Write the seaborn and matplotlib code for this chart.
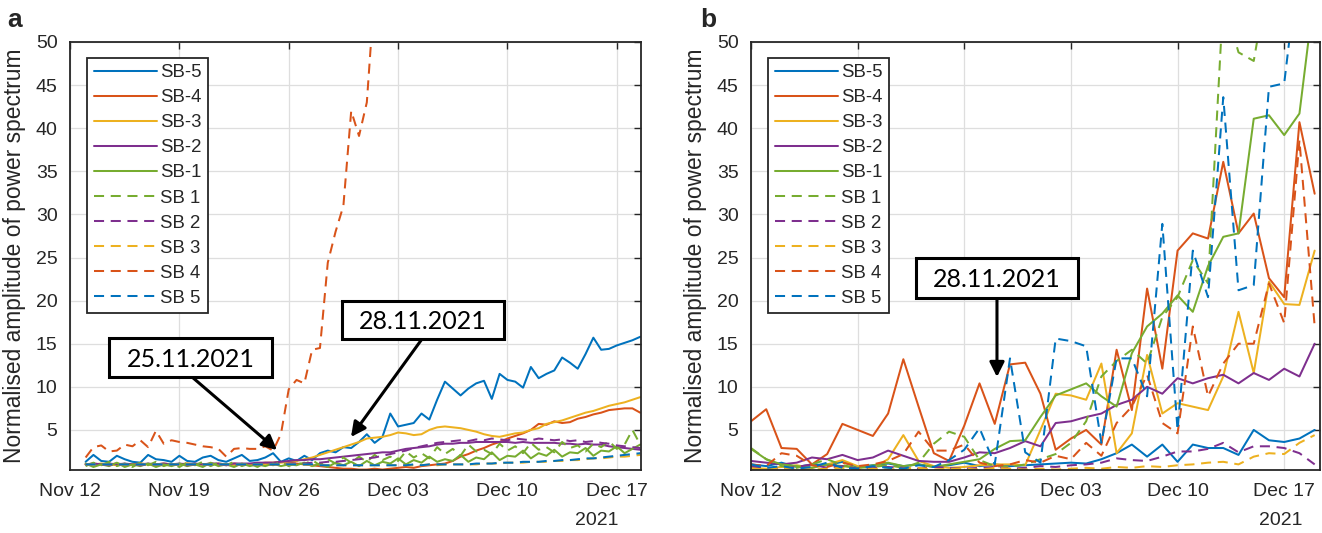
import numpy as np
import pandas as pd
import matplotlib
matplotlib.use("Agg")
import matplotlib.pyplot as plt
import matplotlib.dates as mdates
from matplotlib.patches import Rectangle
import seaborn as sns

# ---------------- data ----------------
# Panel a: 12-hourly samples from 13 Nov 2021 (72 samples)
times_a = pd.date_range("2021-11-13 00:00", periods=72, freq="12h")
# Panel b: daily samples from 12 Nov 2021 (38 samples)
times_b = pd.date_range("2021-11-12", periods=38, freq="D")

labels = ["SB-5", "SB-4", "SB-3", "SB-2", "SB-1", "SB 1", "SB 2", "SB 3", "SB 4", "SB 5"]

# ---- panel a ----
a_sbm5 = [1.3, 2.1, 1.4, 1.3, 2.0, 1.6, 1.3, 1.2, 2.1, 1.6, 1.5, 1.3,
          2.0, 1.4, 1.3, 1.8, 2.0, 1.5, 1.3, 1.7, 2.1, 1.4, 1.5, 1.8,
          2.3, 1.3, 1.7, 1.4, 2.0, 1.5, 2.3, 2.6, 2.4, 3.0, 2.9, 3.6,
          4.5, 3.5, 4.2, 6.9, 5.4, 5.6, 5.8, 6.9, 6.2, 8.5, 10.6, 9.8,
          9.0, 9.8, 10.4, 10.7, 8.6, 11.5, 10.8, 10.6, 9.9, 12.3, 11.0, 11.5,
          11.9, 13.4, 12.8, 12.1, 13.8, 15.7, 14.3, 14.4, 14.8, 15.1, 15.4, 15.8]
a_sbm4 = [1.0, 1.1, 1.0, 1.0, 1.1, 1.0, 1.0, 1.1, 1.0, 1.0, 1.1, 1.0,
          1.0, 1.1, 1.0, 1.0, 1.1, 1.0, 1.0, 1.1, 1.0, 1.0, 1.1, 1.2,
          1.2, 1.3, 1.2, 1.1, 1.0, 0.9, 0.8, 0.7, 0.6, 0.5, 0.5, 0.4,
          0.4, 0.5, 0.4, 0.5, 0.6, 0.7, 0.6, 0.8, 0.9, 1.0, 1.1, 1.4,
          1.9, 2.2, 2.6, 2.9, 3.3, 3.6, 4.0, 4.3, 4.6, 5.0, 5.7, 5.6,
          6.0, 5.8, 5.9, 6.3, 6.5, 6.8, 7.0, 7.3, 7.4, 7.5, 7.5, 7.0]
a_sbm3 = [1.0, 1.0, 1.1, 1.0, 0.9, 1.0, 1.0, 1.1, 1.0, 1.0, 0.9, 1.0,
          1.0, 1.1, 1.0, 1.0, 1.0, 1.1, 1.0, 0.9, 1.0, 1.0, 1.1, 1.0,
          1.1, 1.2, 1.3, 1.4, 1.6, 1.8, 2.1, 2.4, 2.7, 3.0, 3.3, 3.6,
          4.0, 4.1, 4.2, 4.4, 4.7, 4.6, 4.4, 4.5, 5.0, 5.3, 5.4, 5.3,
          5.2, 5.0, 4.8, 4.5, 4.3, 4.2, 4.4, 4.6, 4.7, 5.0, 5.2, 5.7,
          5.9, 6.1, 6.4, 6.7, 7.0, 7.2, 7.5, 7.8, 8.0, 8.2, 8.5, 8.8]
a_sbm2 = [1.0, 1.1, 1.0, 1.1, 1.0, 1.1, 1.0, 1.0, 1.1, 1.0, 1.1, 1.0,
          1.1, 1.0, 1.1, 1.0, 1.1, 1.1, 1.0, 1.1, 1.1, 1.1, 1.2, 1.2,
          1.2, 1.3, 1.4, 1.5, 1.5, 1.6, 1.6, 1.7, 1.8, 1.9, 2.0, 2.1,
          2.2, 2.3, 2.4, 2.4, 2.6, 2.8, 2.9, 3.0, 3.1, 3.3, 3.4, 3.4,
          3.5, 3.5, 3.6, 3.6, 3.6, 3.6, 3.6, 3.5, 3.6, 3.5, 3.5, 3.5,
          3.5, 3.4, 3.4, 3.3, 3.4, 3.3, 3.3, 3.1, 3.0, 2.9, 2.8, 2.7]
a_sbm1 = [1.1, 0.7, 1.0, 0.8, 1.2, 0.7, 1.0, 0.8, 1.1, 0.7, 1.0, 0.8,
          1.1, 0.8, 1.0, 0.7, 1.2, 0.8, 1.0, 0.7, 1.1, 0.8, 1.0, 0.8,
          1.1, 0.8, 1.0, 0.9, 1.2, 0.8, 1.1, 0.7, 1.2, 0.9, 1.3, 0.8,
          1.4, 0.9, 1.3, 1.1, 1.7, 1.0, 1.5, 1.2, 1.9, 1.3, 1.6, 1.4,
          2.1, 1.3, 1.8, 1.6, 2.4, 1.5, 2.0, 1.9, 2.6, 1.7, 2.3, 2.0,
          2.7, 1.9, 2.4, 2.3, 2.9, 2.0, 2.6, 2.5, 3.1, 2.3, 2.8, 3.3]
a_sbp1 = [0.8, 1.2, 0.9, 1.3, 0.8, 1.1, 0.7, 1.2, 0.9, 1.3, 0.8, 1.1,
          0.7, 1.2, 0.9, 1.3, 0.8, 1.2, 0.9, 1.3, 0.8, 1.1, 0.7, 1.2,
          0.9, 1.3, 0.8, 1.2, 1.0, 1.5, 0.9, 1.6, 1.1, 1.8, 1.2, 1.9,
          1.3, 2.1, 1.5, 1.9, 1.4, 2.5, 1.8, 2.3, 1.7, 3.0, 2.2, 2.8,
          2.0, 3.3, 2.5, 2.7, 2.2, 3.4, 2.6, 3.1, 2.3, 3.5, 2.7, 3.0,
          2.4, 3.6, 2.9, 3.2, 2.5, 3.4, 3.0, 3.7, 2.8, 3.3, 5.0, 3.3]
a_sbp2 = [1.0, 1.0, 1.0, 0.9, 1.0, 1.0, 1.0, 0.9, 1.0, 1.0, 1.0, 1.0,
          1.0, 0.9, 1.0, 1.0, 1.0, 1.0, 0.9, 1.0, 1.0, 1.0, 1.0, 1.0,
          1.0, 1.0, 1.1, 1.1, 1.1, 1.2, 1.2, 1.3, 1.3, 1.4, 1.5, 1.6,
          1.7, 1.8, 2.0, 2.2, 2.4, 2.6, 2.9, 3.1, 3.3, 3.5, 3.6, 3.7,
          3.8, 3.7, 3.9, 3.8, 4.0, 3.9, 3.8, 4.0, 3.9, 3.8, 4.0, 3.9,
          3.8, 3.9, 3.7, 3.8, 3.6, 3.7, 3.5, 3.4, 3.2, 3.1, 3.0, 2.9]
a_sbp3 = [1.0, 1.0, 1.0, 1.0, 1.0, 1.0, 1.0, 1.0, 1.0, 1.0, 1.0, 1.0,
          1.0, 1.0, 1.0, 1.0, 1.0, 1.0, 1.0, 1.0, 1.0, 1.0, 1.0, 1.0,
          1.0, 1.0, 1.0, 1.0, 1.0, 0.9, 0.9, 0.9, 0.9, 0.9, 0.9, 0.9,
          0.9, 0.9, 0.9, 0.9, 0.9, 0.9, 0.9, 0.9, 1.0, 0.9, 1.0, 1.0,
          1.0, 1.0, 1.0, 1.1, 1.1, 1.1, 1.2, 1.2, 1.2, 1.3, 1.3, 1.3,
          1.4, 1.4, 1.5, 1.5, 1.6, 1.7, 1.7, 1.8, 1.9, 1.9, 2.0, 2.1]
a_sbp4 = [1.8, 3.0, 3.2, 2.5, 2.6, 3.3, 3.1, 3.8, 3.0, 4.9, 3.4, 3.8,
          3.6, 3.5, 3.3, 3.1, 3.0, 2.8, 1.9, 2.8, 2.9, 2.8, 2.8, 3.1,
          2.6, 4.5, 9.7, 10.8, 10.4, 14.3, 14.5, 24.4, 28.0, 31.0, 42.0, 39.1,
          43.0, 56.0, 62.0, np.nan, np.nan, np.nan, np.nan, np.nan, np.nan, np.nan, np.nan, np.nan,
          np.nan, np.nan, np.nan, np.nan, np.nan, np.nan, np.nan, np.nan, np.nan, np.nan, np.nan, np.nan,
          np.nan, np.nan, np.nan, np.nan, np.nan, np.nan, np.nan, np.nan, np.nan, np.nan, np.nan, np.nan]
a_sbp5 = [1.0, 1.0, 1.0, 1.0, 1.0, 1.0, 1.0, 1.0, 1.0, 1.0, 1.0, 1.0,
          1.0, 1.0, 1.0, 1.0, 1.0, 1.0, 1.0, 1.0, 1.0, 1.0, 1.0, 1.0,
          1.0, 1.0, 1.0, 1.0, 1.0, 1.0, 0.9, 0.9, 0.9, 0.9, 0.9, 0.9,
          0.9, 0.9, 0.9, 0.9, 0.9, 0.9, 1.0, 0.9, 1.0, 1.0, 1.0, 1.0,
          1.0, 1.0, 1.1, 1.1, 1.1, 1.2, 1.2, 1.2, 1.3, 1.3, 1.3, 1.4,
          1.4, 1.5, 1.5, 1.6, 1.7, 1.7, 1.8, 1.9, 2.0, 2.1, 2.2, 2.3]

# ---- panel b ----
b_sbm5 = [1.0, 0.8, 1.2, 0.7, 1.0, 0.9, 1.3, 0.7, 0.9, 1.1,
          0.8, 1.0, 0.7, 0.9, 1.2, 0.8, 1.0, 0.8, 0.9, 1.0,
          1.1, 1.2, 1.1, 1.6, 2.3, 3.3, 1.9, 3.3, 1.3, 3.3,
          2.9, 2.9, 2.1, 5.0, 3.8, 3.6, 4.0, 5.0]
b_sbm4 = [6.0, 7.4, 2.9, 2.8, 1.0, 2.2, 5.7, 5.0, 4.3, 6.9,
          13.2, 7.7, 2.3, 1.4, 5.5, 10.4, 5.7, 12.6, 12.8, 9.2,
          2.7, 4.0, 5.0, 3.3, 14.3, 7.3, 21.4, 12.1, 25.8, 27.8,
          27.2, 36.1, 27.8, 30.1, 22.6, 20.4, 40.7, 32.4]
b_sbm3 = [0.6, 0.5, 0.7, 0.9, 0.6, 1.0, 1.5, 0.8, 0.6, 1.6,
          4.4, 1.4, 0.8, 0.6, 0.7, 0.9, 1.0, 1.0, 0.9, 5.0,
          9.2, 9.0, 8.5, 12.7, 2.3, 4.6, 13.7, 6.9, 8.1, 7.7,
          7.3, 11.2, 18.7, 11.6, 22.2, 19.6, 19.5, 25.8]
b_sbm2 = [1.4, 1.2, 1.0, 1.2, 1.8, 1.6, 2.1, 1.5, 1.8, 2.6,
          2.0, 1.4, 1.3, 1.3, 1.8, 2.4, 2.3, 2.9, 3.7, 3.1,
          5.8, 6.0, 6.5, 6.9, 7.9, 8.5, 10.0, 9.2, 11.0, 10.4,
          11.0, 11.4, 10.4, 11.6, 10.8, 12.1, 11.2, 15.0]
b_sbm1 = [2.8, 1.6, 1.0, 0.8, 0.6, 1.0, 0.8, 0.6, 0.9, 1.2,
          0.8, 1.0, 0.7, 1.0, 1.3, 1.6, 2.8, 3.7, 3.8, 6.5,
          9.0, 9.7, 10.4, 8.9, 7.7, 13.9, 17.0, 18.5, 20.6, 18.7,
          24.0, 27.4, 27.8, 41.1, 41.5, 39.2, 41.7, 56.0]
b_sbp1 = [2.9, 1.6, 0.8, 0.6, 1.0, 1.6, 0.9, 0.6, 0.7, 0.9,
          0.6, 1.2, 3.4, 4.8, 4.2, 1.5, 0.8, 0.7, 1.0, 1.6,
          2.2, 3.5, 6.0, 11.2, 13.0, 14.3, 12.7, 18.1, 20.4, 24.7,
          22.0, 55.0, 48.8, 47.8, 58.0, 60.0, 60.0, 60.0]
b_sbp2 = [0.8, 0.6, 0.5, 0.7, 1.0, 0.6, 0.8, 0.5, 0.6, 0.7,
          0.6, 0.5, 0.7, 0.6, 0.5, 0.6, 0.7, 0.5, 0.6, 0.8,
          0.7, 0.9, 1.0, 1.2, 1.7, 1.5, 1.4, 1.9, 2.5, 2.5,
          2.8, 3.5, 2.4, 3.1, 3.1, 2.9, 2.3, 1.0]
b_sbp3 = [0.5, 0.4, 0.6, 0.5, 0.4, 0.5, 0.6, 0.4, 0.5, 0.4,
          0.5, 0.6, 0.4, 0.5, 0.5, 0.4, 0.6, 0.5, 0.4, 0.5,
          0.4, 0.5, 0.6, 0.5, 0.7, 0.6, 0.8, 0.7, 0.9, 1.0,
          1.2, 1.3, 1.0, 1.9, 2.3, 2.2, 3.5, 4.4]
b_sbp4 = [1.0, 0.8, 2.3, 2.0, 0.9, 0.7, 1.2, 0.8, 1.0, 1.4,
          2.2, 4.8, 2.6, 2.6, 3.3, 1.2, 0.8, 1.0, 1.5, 1.2,
          2.0, 1.6, 3.5, 2.0, 5.8, 7.7, 11.4, 5.8, 4.6, 17.0,
          8.9, 12.7, 15.0, 15.0, 22.0, 17.4, 38.6, 17.0]
b_sbp5 = [1.0, 0.6, 0.8, 0.5, 0.7, 1.2, 0.6, 0.5, 0.8, 0.6,
          0.5, 0.9, 0.7, 1.5, 2.7, 5.2, 1.0, 13.3, 2.4, 1.2,
          15.6, 15.3, 14.7, 3.5, 13.3, 13.3, 8.9, 28.9, 5.0, 25.8,
          20.4, 43.6, 21.2, 21.8, 44.8, 45.2, 60.0, 60.0]

x_ticks = ["2021-11-12", "2021-11-19", "2021-11-26", "2021-12-03", "2021-12-10", "2021-12-17"]
y_ticks = [5, 10, 15, 20, 25, 30, 35, 40, 45, 50]

# ---------------- style ----------------
sns.set_theme(style="white")
plt.rcParams["font.family"] = ["Liberation Sans", "DejaVu Sans"]
plt.rcParams["lines.dashed_pattern"] = [5.0, 3.3]

C_BLUE, C_RED, C_YEL, C_PUR, C_GRN = "#0072BD", "#D95319", "#EDB120", "#7E2F8E", "#77AC30"
colors = [C_BLUE, C_RED, C_YEL, C_PUR, C_GRN, C_GRN, C_PUR, C_YEL, C_RED, C_BLUE]
styles = ["-"] * 5 + ["--"] * 5

series_a = [a_sbm5, a_sbm4, a_sbm3, a_sbm2, a_sbm1, a_sbp1, a_sbp2, a_sbp3, a_sbp4, a_sbp5]
series_b = [b_sbm5, b_sbm4, b_sbm3, b_sbm2, b_sbm1, b_sbp1, b_sbp2, b_sbp3, b_sbp4, b_sbp5]

fig = plt.figure(figsize=(13.22, 5.33), dpi=100)
W, H = 1322, 533
ax_a = fig.add_axes([70 / W, 63 / H, 571 / W, 428 / H])
ax_b = fig.add_axes([751 / W, 63 / H, 569 / W, 428 / H])

t0 = pd.Timestamp("2021-11-12")


def draw(ax, times, series, xmax_days):
    for vals, lab, col, ls in zip(series, labels, colors, styles):
        df = pd.DataFrame({"t": times, "v": vals}).dropna()
        sns.lineplot(data=df, x="t", y="v", ax=ax, color=col, linestyle=ls,
                     linewidth=1.45, label=lab, legend=False)
    ax.set_xlim(t0, t0 + pd.Timedelta(days=xmax_days))
    ax.set_ylim(0.35, 50)
    ax.set_xticks(pd.to_datetime(x_ticks))
    ax.xaxis.set_major_formatter(mdates.DateFormatter("%b %d"))
    ax.set_yticks(y_ticks)
    ax.grid(True, color="#dedede", linewidth=0.9)
    ax.set_axisbelow(True)
    for s in ax.spines.values():
        s.set_color("#262626")
        s.set_linewidth(1.3)
        s.set_visible(True)
    ax.tick_params(direction="in", length=5, width=1.0, colors="#262626",
                   labelsize=14, top=True, right=True, pad=9, labelcolor="#262626")
    ax.set_xlabel("")
    ax.set_ylabel("Normalised amplitude of power spectrum", fontsize=16.4, color="#262626")
    ax.yaxis.set_label_coords(-0.077, 0.5)
    handles, labs = ax.get_legend_handles_labels()
    leg = ax.legend(handles, labs, loc="upper left", bbox_to_anchor=(0.03, 0.963),
                    borderaxespad=0, fontsize=13.4, frameon=True, fancybox=False,
                    edgecolor="#262626", framealpha=1, handlelength=3.4,
                    handletextpad=0.15, labelspacing=0.43, borderpad=0.35)
    leg.get_frame().set_linewidth(1.3)


draw(ax_a, times_a, series_a, 36.55)
draw(ax_b, times_b, series_b, 37.35)

# year labels under the last tick
for ax, d in [(ax_a, 33.7), (ax_b, 34.8)]:
    ax.text(t0 + pd.Timedelta(days=d), -0.119, "2021", transform=ax.get_xaxis_transform(),
            ha="center", va="center", fontsize=14, color="#262626")


def boxed(ax, x0, y0, x1, y1, text):
    ax.add_patch(Rectangle((x0, y0), x1 - x0, y1 - y0, transform=ax.transAxes,
                           facecolor="white", edgecolor="black", linewidth=2.2, zorder=20,
                           clip_on=False))
    ax.text((x0 + x1) / 2, (y0 + y1) / 2, text, transform=ax.transAxes, ha="center",
            va="center_baseline", fontsize=18, family=["Lato", "DejaVu Sans"],
            color="black", zorder=21)


def arrow(ax, start, tip):
    ax.annotate("", xy=tip, xytext=start, xycoords="axes fraction", textcoords="axes fraction",
                arrowprops=dict(arrowstyle="-|>", color="black", lw=2.2, mutation_scale=22,
                                shrinkA=0, shrinkB=0), zorder=19)


boxed(ax_a, 0.0683, 0.2173, 0.3538, 0.3084, "25.11.2021")
arrow(ax_a, (0.2137, 0.2173), (0.3625, 0.0467))
boxed(ax_a, 0.4764, 0.3061, 0.7601, 0.3949, "28.11.2021")
arrow(ax_a, (0.6165, 0.3061), (0.4921, 0.0771))
boxed(ax_b, 0.290, 0.4019, 0.5747, 0.4953, "28.11.2021")
arrow(ax_b, (0.4323, 0.4019), (0.4323, 0.2173))

fig.text(7 / W, 1 - 27 / H, "a", fontsize=19, fontweight="bold", ha="left", va="baseline")
fig.text(700 / W, 1 - 27 / H, "b", fontsize=19, fontweight="bold", ha="left", va="baseline")

fig.savefig("out.png", dpi=100)
